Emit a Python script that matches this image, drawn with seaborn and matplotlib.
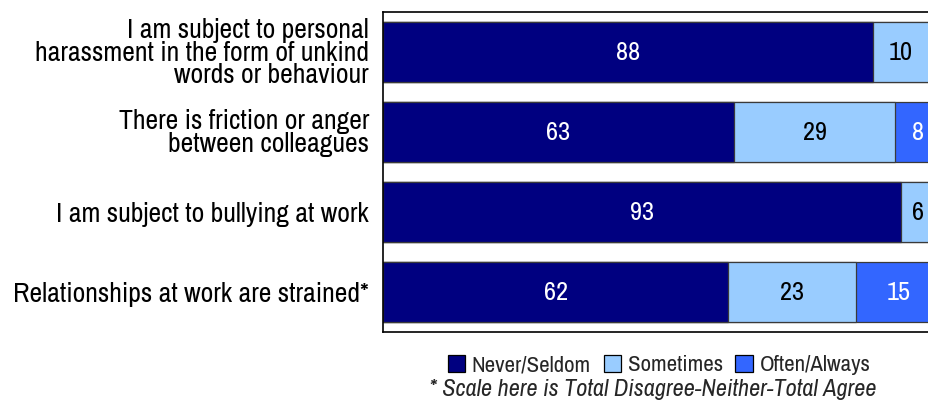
import matplotlib
matplotlib.use("Agg")
import matplotlib.pyplot as plt
from matplotlib import font_manager
from matplotlib.patches import Patch
import numpy as np
import pandas as pd
import seaborn as sns

statements = [
    "I am subject to personal\nharassment in the form of unkind\nwords or behaviour",
    "There is friction or anger\nbetween colleagues",
    "I am subject to bullying at work",
    "Relationships at work are strained*",
]
never_seldom = [88, 63, 93, 62]
sometimes = [10, 29, 6, 23]
often_always = [2, 8, 1, 15]

series_names = ["Never/Seldom", "Sometimes", "Often/Always"]
series_colors = ["#000080", "#99CCFF", "#3366FF"]
label_colors = ["white", "black", "white"]
footnote = "* Scale here is Total Disagree-Neither-Total Agree"

sns.set_style("white")

# prefer a narrow sans face; otherwise use a regular one at a smaller size
fonts = font_manager.fontManager.ttflist
narrow = [f.name for f in fonts
          if ("Narrow" in f.name or "Condensed" in f.name) and "Mono" not in f.name
          and "Serif" not in f.name]
if narrow:
    family = "Liberation Sans Narrow" if "Liberation Sans Narrow" in narrow else narrow[0]
    cat_size, val_size, leg_size, note_size, spacing = 20, 19, 16.5, 17.5, 0.86
else:
    family = "Liberation Sans"
    cat_size, val_size, leg_size, note_size, spacing = 16.5, 16, 14, 14.5, 0.98
plt.rcParams["font.family"] = [family, "DejaVu Sans"]

fig = plt.figure(figsize=(9.29, 4.08), dpi=100)
# axis runs 0-100; its right end lies past the canvas edge
ax = fig.add_axes([383 / 929, 76 / 408, 557 / 929, 320 / 408])

segments = np.array([never_seldom, sometimes, often_always], dtype=float)
cumulative = segments.cumsum(axis=0)

# stacked bars: draw the running totals from the longest down
for i in range(2, -1, -1):
    df = pd.DataFrame({"statement": statements, "value": cumulative[i]})
    sns.barplot(data=df, x="value", y="statement", orient="h", color=series_colors[i],
                saturation=1, width=0.76, edgecolor="#3a3a3a", linewidth=0.9,
                errorbar=None, ax=ax)

for i in range(3):
    starts = cumulative[i] - segments[i]
    for row, (s, v) in enumerate(zip(starts, segments[i])):
        if v >= 5:
            ax.text(s + v / 2, row, f"{int(v)}", ha="center", va="center",
                    color=label_colors[i], fontsize=val_size, fontweight="bold")

ax.set_xlim(0, 100)
ax.set_ylim(3.5, -0.5)
ax.set_xlabel("")
ax.set_ylabel("")
ax.set_xticks([])
ax.tick_params(axis="y", length=0, pad=10)
for lbl in ax.get_yticklabels():
    lbl.set_fontsize(cat_size)
    lbl.set_linespacing(spacing)
    lbl.set_multialignment("right")
    lbl.set_color("black")
for sp in ax.spines.values():
    sp.set_visible(True)
    sp.set_color("black")
    sp.set_linewidth(1.2)

handles = [Patch(facecolor=c, edgecolor="black", linewidth=0.9) for c in series_colors]
fig.legend(handles, series_names, loc="center", bbox_to_anchor=(659 / 929, 1 - 365 / 408),
           ncol=3, frameon=False, fontsize=leg_size, handlelength=0.75, handleheight=0.75,
           handletextpad=0.3, columnspacing=0.55, borderpad=0)
fig.text(653 / 929, 1 - 389 / 408, footnote, ha="center", va="center",
         fontsize=note_size, style="italic")

fig.savefig("out.png", dpi=100)
